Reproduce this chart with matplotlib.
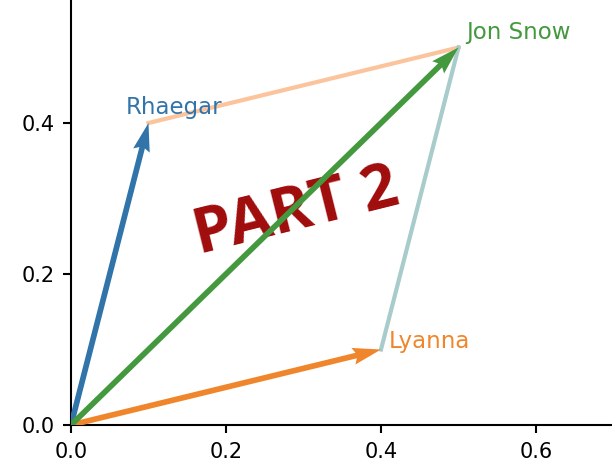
import numpy as np
import matplotlib
matplotlib.use("Agg")
from matplotlib import pyplot as plt

# vectors
names = ["Rhaegar", "Lyanna", "Jon Snow"]
vec_x = [0.1, 0.4, 0.5]
vec_y = [0.4, 0.1, 0.5]
vec_colors = ["#3174a9", "#f0862c", "#44993f"]

# label anchors
label_x = [0.07, 0.41, 0.51]
label_y = [0.421, 0.11, 0.52]

# parallelogram sides
side1_x = [0.1, 0.5]
side1_y = [0.4, 0.5]
side2_x = [0.4, 0.5]
side2_y = [0.1, 0.5]

fig = plt.figure(figsize=(6.12, 4.69), dpi=100)
ax = fig.add_axes([71 / 612, 44 / 469, 541 / 612, 425 / 469])

ax.plot(side1_x, side1_y, color="#fbc49c", lw=3, zorder=2)
ax.plot(side2_x, side2_y, color="#a8cbcc", lw=3, zorder=2)

n = len(vec_x)
ax.quiver(np.zeros(n), np.zeros(n), vec_x, vec_y, color=vec_colors,
          angles="xy", scale_units="xy", scale=1, width=0.0105, zorder=4)

for name, lx, ly, c in zip(names, label_x, label_y, vec_colors):
    ax.text(lx, ly, name, color=c, fontsize=16.5, ha="left", va="center", zorder=5)

ax.text(0.29, 0.281, "PART 2", color="#a00c0c", fontsize=45, fontweight="bold",
        family=["Open Sans", "DejaVu Sans"], rotation=14, ha="center", va="center",
        rotation_mode="anchor", zorder=3)

ax.set_xlim(0, 541 / 775)
ax.set_ylim(0, 425 / 755)
ax.set_xticks([0.0, 0.2, 0.4, 0.6])
ax.set_yticks([0.0, 0.2, 0.4])
ax.spines["top"].set_visible(False)
ax.spines["right"].set_visible(False)
for s in ["left", "bottom"]:
    ax.spines[s].set_linewidth(1.5)
ax.tick_params(labelsize=15, width=1.5, length=6, pad=6)

fig.savefig("out.png", dpi=100)
